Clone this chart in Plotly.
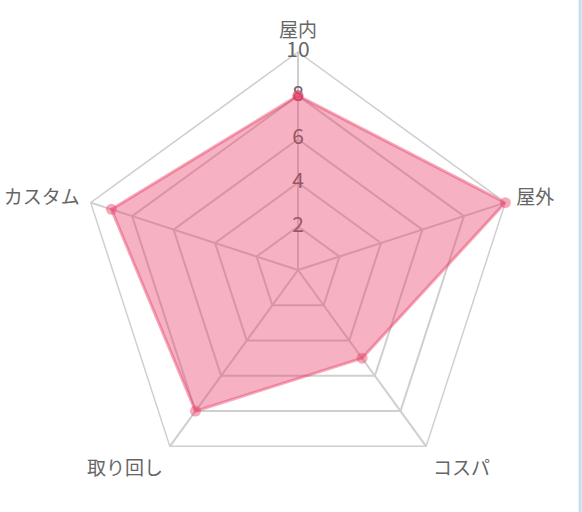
import plotly.graph_objects as go

# Data.
categories = ["屋内", "屋外", "コスパ", "取り回し", "カスタム"]
scores = [8, 10, 5, 8, 9]
tick_values = [2, 4, 6, 8, 10]

kFill = "rgba(232, 62, 102, 0.4)"
kLine = "rgba(232, 62, 102, 0.45)"
kGrid = "#cfcfcf"
kText = "#666666"
kFont = "Noto Sans CJK JP, Noto Sans, sans-serif"

closed_cats = categories + categories[:1]
closed_scores = scores + scores[:1]

fig = go.Figure()

# Tick labels drawn under the filled area, centred on the top spoke.
fig.add_trace(go.Scatterpolar(
    r=tick_values, theta=[categories[0]] * len(tick_values),
    mode="text", text=[str(v) for v in tick_values],
    textfont=dict(size=21, color=kText, family=kFont),
    textposition="middle center", hoverinfo="skip", showlegend=False, cliponaxis=False))

fig.add_trace(go.Scatterpolar(
    r=closed_scores, theta=closed_cats, mode="lines+markers",
    fill="toself", fillcolor=kFill,
    line=dict(color=kLine, width=3),
    marker=dict(size=11, color=kLine, line=dict(width=0)),
    showlegend=False))

fig.update_layout(
    width=582, height=512,
    margin=dict(l=80, r=66, t=52, b=24),
    paper_bgcolor="white",
    font=dict(family=kFont, color=kText, size=16),
    polar=dict(
        bgcolor="rgba(0,0,0,0)",
        gridshape="linear",
        domain=dict(x=[0, 1], y=[0, 1]),
        radialaxis=dict(range=[0, 10], tickvals=tick_values, showticklabels=False,
                        showline=False, ticks="", gridcolor=kGrid, gridwidth=1.5,
                        layer="below traces"),
        angularaxis=dict(rotation=90, direction="clockwise", categoryarray=categories,
                         categoryorder="array", showline=True, linecolor=kGrid, linewidth=1.5,
                         gridcolor=kGrid, gridwidth=1.5, ticks="outside", ticklen=7,
                         tickcolor="rgba(0,0,0,0)", tickfont=dict(size=19, color=kText),
                         layer="below traces"),
    ),
    # thin blue page border on the right
    shapes=[dict(type="line", xref="paper", yref="paper", x0=1.147, x1=1.147, y0=-0.1, y1=1.2,
                 line=dict(color="#c6dcef", width=3))],
)

# drop the default body margin so the figure sits at the window corner
fig.write_html("out.html", config={"displayModeBar": False},
               post_script="document.body.style.margin='0';")
